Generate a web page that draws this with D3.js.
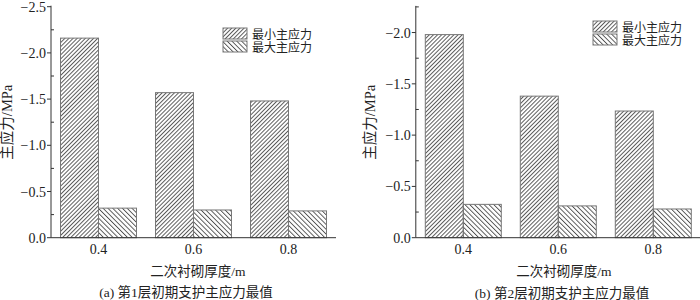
<!DOCTYPE html>
<html>
<head>
<meta charset="utf-8">
<script src="https://cdn.jsdelivr.net/npm/d3@7"></script>
<style>
  body { margin: 0; background: #fff; }
  svg { display: block; }
  text { fill: #222; font-family: "Liberation Serif", "Noto Sans CJK SC", serif; }
</style>
</head>
<body>
<div id="chart"></div>
<script>
// thickness of the secondary lining (x axis categories)
const thickness = [0.4, 0.6, 0.8];
const seriesNames = ["最小主应力", "最大主应力"];

// panel (a): layer 1 primary support
const minStressA = [-2.16, -1.57, -1.48];
const maxStressA = [-0.32, -0.30, -0.29];
// panel (b): layer 2 primary support
const minStressB = [-1.98, -1.38, -1.235];
const maxStressB = [-0.325, -0.31, -0.28];

const yTicksA = [0, -0.5, -1.0, -1.5, -2.0, -2.5];
const yTicksB = [0, -0.5, -1.0, -1.5, -2.0];
const xTicks = [0.4, 0.6, 0.8];

const yLabel = "主应力/MPa";
const xLabel = "二次衬砌厚度/m";
const captions = ["(a) 第1层初期支护主应力最值", "(b) 第2层初期支护主应力最值"];

const svg = d3.select("#chart").append("svg")
  .attr("width", 700)
  .attr("height", 300);

// hatch patterns: "/" for the minimum, "\" for the maximum principal stress
const defs = svg.append("defs");
function hatch(id, angle, gap) {
  const p = defs.append("pattern")
    .attr("id", id)
    .attr("patternUnits", "userSpaceOnUse")
    .attr("width", gap)
    .attr("height", gap)
    .attr("patternTransform", `rotate(${angle})`);
  p.append("line")
    .attr("x1", 0.5).attr("y1", 0)
    .attr("x2", 0.5).attr("y2", gap)
    .attr("stroke", "#333")
    .attr("stroke-width", 0.8);
}
hatch("hatchMin", 45, 2.9);
hatch("hatchMax", -45, 3.4);
const fills = ["url(#hatchMin)", "url(#hatchMax)"];

function panel({
  left, right, top, bottom, yMax,
  minVals, maxVals, yTicks, caption,
  yLabelX, legendX, legendY,
  xLabelX, captionX, captionY
}) {
  const g = svg.append("g");

  const x = d3.scaleLinear().domain([0.3, 0.9]).range([left, right]);
  const y = d3.scaleLinear().domain([0, yMax]).range([bottom, top]);
  const barW = x(0.38) - x(0.3);

  // bars, the minimum on the left of each tick and the maximum on the right
  const series = [minVals, maxVals];
  series.forEach((vals, s) => {
    g.selectAll(null)
      .data(vals)
      .join("rect")
      .attr("x", (d, i) => x(thickness[i]) + (s === 0 ? -barW : 0))
      .attr("y", d => y(d))
      .attr("width", barW)
      .attr("height", d => y(0) - y(d))
      .attr("fill", fills[s])
      .attr("stroke", "#777")
      .attr("stroke-width", 1);
  });

  // y axis: major ticks outward, minor ticks inward
  const yAxis = g.append("g").attr("transform", `translate(${left},0)`);
  yAxis.append("line")
    .attr("x1", 0).attr("x2", 0)
    .attr("y1", y(yMax) - 1).attr("y2", bottom)
    .attr("stroke", "#333");
  yAxis.selectAll(".major")
    .data(yTicks)
    .join("line")
    .attr("x1", -4).attr("x2", 0)
    .attr("y1", d => y(d)).attr("y2", d => y(d))
    .attr("stroke", "#333");
  const minor = d3.range(-0.25, yMax - 0.01, -0.5).filter(d => d >= yMax);
  yAxis.selectAll(".minor")
    .data(minor)
    .join("line")
    .attr("x1", 0).attr("x2", 3)
    .attr("y1", d => y(d)).attr("y2", d => y(d))
    .attr("stroke", "#333");
  yAxis.selectAll("text")
    .data(yTicks)
    .join("text")
    .attr("x", -5)
    .attr("y", d => y(d) + 5)
    .attr("text-anchor", "end")
    .attr("font-size", 14)
    .text(d => d === 0 ? "0.0" : d3.format(".1f")(d));

  // x axis
  g.append("line")
    .attr("x1", left).attr("x2", right)
    .attr("y1", bottom).attr("y2", bottom)
    .attr("stroke", "#333");
  g.selectAll(".xt")
    .data(xTicks)
    .join("text")
    .attr("x", d => x(d))
    .attr("y", 254)
    .attr("text-anchor", "middle")
    .attr("font-size", 14)
    .text(d => d3.format(".1f")(d));

  // labels
  g.append("text")
    .attr("transform", `translate(${yLabelX},${(top + bottom) / 2}) rotate(-90)`)
    .attr("text-anchor", "middle")
    .attr("font-size", 14.5)
    .text(yLabel);
  g.append("text")
    .attr("x", xLabelX).attr("y", 276)
    .attr("text-anchor", "middle")
    .attr("font-size", 13.5)
    .text(xLabel);
  g.append("text")
    .attr("x", captionX).attr("y", captionY)
    .attr("text-anchor", "middle")
    .attr("font-size", 13.5)
    .text(caption);

  // legend
  const lg = g.append("g").attr("transform", `translate(${legendX},${legendY})`);
  seriesNames.forEach((name, i) => {
    lg.append("rect")
      .attr("x", 0).attr("y", i * 13)
      .attr("width", 24).attr("height", 11)
      .attr("fill", fills[i])
      .attr("stroke", "#777");
    lg.append("text")
      .attr("x", 29).attr("y", i * 13 + 10.5)
      .attr("font-size", 12)
      .text(name);
  });
}

panel({
  left: 51, right: 336, top: 6.7, bottom: 237.7, yMax: -2.5,
  minVals: minStressA, maxVals: maxStressA, yTicks: yTicksA, caption: captions[0],
  yLabelX: 12, legendX: 223, legendY: 28,
  xLabelX: 198, captionX: 186, captionY: 297
});
panel({
  left: 415.8, right: 700.8, top: 6.9, bottom: 237.7, yMax: -2.25,
  minVals: minStressB, maxVals: maxStressB, yTicks: yTicksB, caption: captions[1],
  yLabelX: 375, legendX: 593, legendY: 21,
  xLabelX: 564, captionX: 562, captionY: 298
});
</script>
</body>
</html>
